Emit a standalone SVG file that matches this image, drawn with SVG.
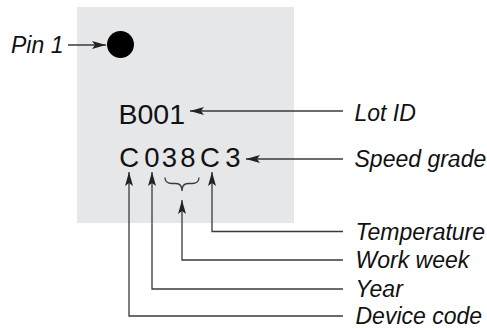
<svg xmlns="http://www.w3.org/2000/svg" width="487" height="329" viewBox="0 0 487 329">
<style>
.lbl{font-family:"Liberation Sans",Arial,sans-serif;font-style:italic;font-size:23px;fill:#111}
.code{font-family:"Liberation Sans",Arial,sans-serif;fill:#111}
.conn{fill:none;stroke:#3a3a3a;stroke-width:1.3}
</style>
<defs>
<marker id="ah" viewBox="0 0 14 8" refX="14" refY="4" markerWidth="14" markerHeight="8" markerUnits="userSpaceOnUse" orient="auto">
<path d="M0,0 L14,4 L0,8 L3,4 z" fill="#222"/>
</marker>
</defs>
<rect id="chip" x="77" y="7" width="217" height="216" fill="#e6e7e9"/>
<g id="pin1-dot"><circle cx="120.5" cy="44.5" r="13.5" fill="#000"/></g>
<g id="lot-code"><text class="code" x="118.5" y="123.5" font-size="28.5">B001</text></g>
<g id="marking-code"><text class="code" x="119.3 144.2 161.8 180.2 200 225.2" y="166.5" font-size="27.5">C038C3</text></g>
<g id="brace"><path class="conn" stroke-width="1" d="M165,177.5 Q165,183.5 172,183.5 L176,183.5 Q182,183.5 182,191 Q182,183.5 188,183.5 L192,183.5 Q199,183.5 199,177.5"/></g>
<g id="labels">
<text id="pin1" class="lbl" x="11" y="52.5">Pin 1</text>
<text id="lotid" class="lbl" x="354.5" y="120.5">Lot ID</text>
<text id="speed" class="lbl" x="354.5" y="166.5">Speed grade</text>
<text id="temp" class="lbl" x="355.5" y="239.5">Temperature</text>
<text id="week" class="lbl" x="355.5" y="268">Work week</text>
<text id="year" class="lbl" x="355.5" y="297">Year</text>
<text id="device" class="lbl" x="355.5" y="324">Device code</text>
</g>
<g id="connectors">
<path class="conn" marker-end="url(#ah)" d="M68,45 H106"/>
<path class="conn" marker-end="url(#ah)" d="M343,111 H190"/>
<path class="conn" marker-end="url(#ah)" d="M343,159 H246"/>
<path class="conn" marker-end="url(#ah)" d="M343,231.5 H212 V172"/>
<path class="conn" marker-end="url(#ah)" d="M343,260 H182 V200"/>
<path class="conn" marker-end="url(#ah)" d="M343,289 H152 V172"/>
<path class="conn" marker-end="url(#ah)" d="M343,316 H129 V172"/>
</g>
</svg>
